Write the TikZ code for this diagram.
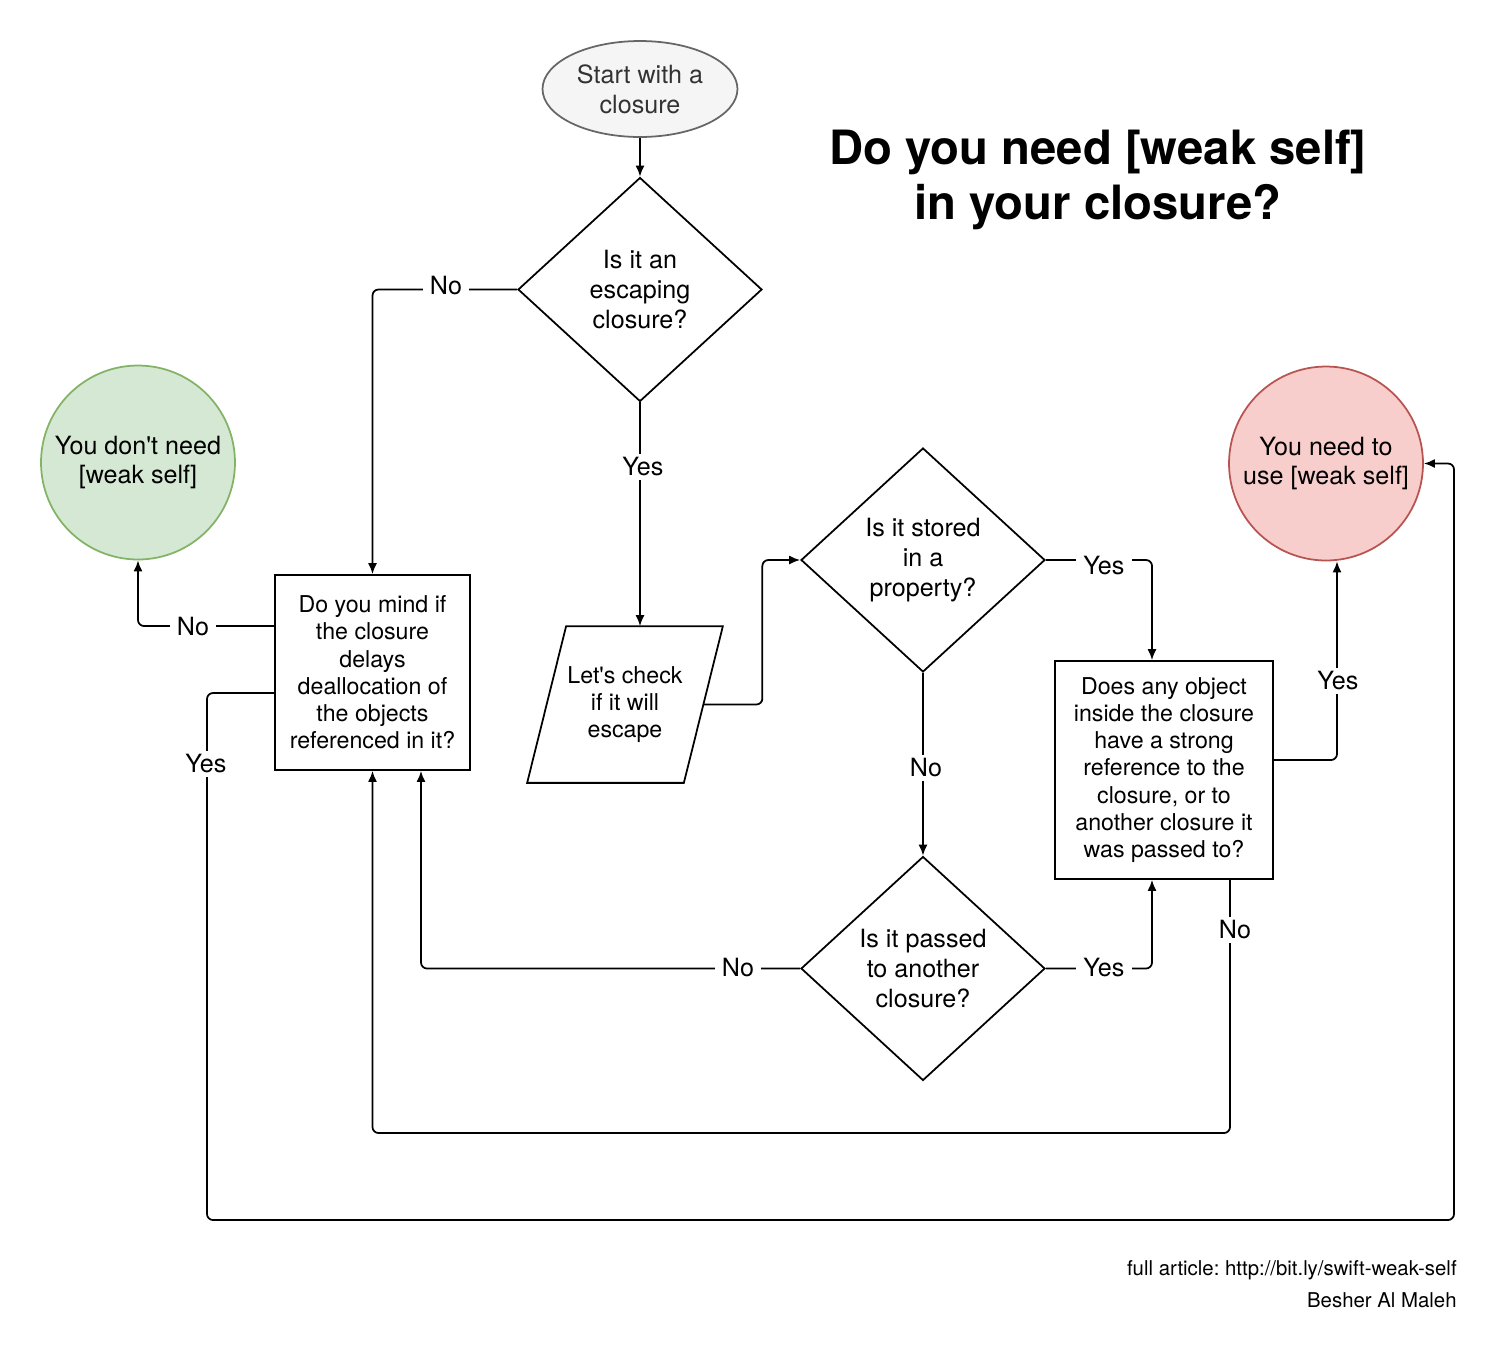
\documentclass[tikz,border=0pt]{standalone}
\usepackage{fontspec}
\setmainfont{TeX Gyre Heros}[Ligatures=TeXOff]
\frenchspacing
\usetikzlibrary{shapes.geometric,arrows.meta,calc}
\definecolor{startfill}{HTML}{F5F5F5}
\definecolor{startdraw}{HTML}{666666}
\definecolor{starttext}{HTML}{333333}
\definecolor{gfill}{HTML}{D5E8D4}
\definecolor{gdraw}{HTML}{82B366}
\definecolor{rfill}{HTML}{F8CECC}
\definecolor{rdraw}{HTML}{B85450}
\begin{document}
\begin{tikzpicture}[x=0.02cm,y=-0.02cm,
 base/.style={line width=1pt,draw=black,align=center,inner sep=0pt},
 big/.style={font=\fontsize{14.3}{17}\selectfont},
 small/.style={font=\fontsize{13.2}{15.5}\selectfont},
 dia/.style={base,big,diamond,minimum width=4.88cm,minimum height=4.48cm},
 box/.style={base,small,rectangle},
 endc/.style={base,big,circle,minimum size=3.88cm},
 arr/.style={line width=1pt,-{Latex[length=2.2mm,width=1.8mm]},rounded corners=0.12cm},
 lbl/.style={fill=white,big,inner xsep=4pt,inner ysep=2pt}
]
\useasboundingbox (0,0) rectangle (1502,1350);

% nodes
\node[base,big,ellipse,fill=startfill,draw=startdraw,text=starttext,
      minimum width=3.9cm,minimum height=1.92cm] (start) at (640,89) {Start with a\\closure};
\node[dia] (d1) at (640,289.5) {Is it an\\escaping\\closure?};
\node[endc,fill=gfill,draw=gdraw] (green) at (138,462.5) {You don't need\\{}[weak self]};
\node[endc,fill=rfill,draw=rdraw] (red) at (1326,463.5) {You need to\\use [weak self]};
\node[box,minimum width=3.9cm,minimum height=3.9cm] (r1) at (372.5,672.5)
  {Do you mind if\\the closure\\delays\\deallocation of\\the objects\\referenced in it?};
\node[base,small,draw=none,minimum width=3.88cm,minimum height=3.1cm] (p) at (625,704.5)
  {Let's check\\if it will\\escape};
\draw[line width=1pt] ($(p.north west)+(0.78cm,0)$) -- (p.north east)
  -- ($(p.south east)+(-0.78cm,0)$) -- (p.south west) -- cycle;
\coordinate (pe) at ($(p.east)+(-0.39cm,0)$);
\node[dia] (d2) at (923,560) {Is it stored\\in a\\property?};
\node[dia] (d3) at (923,968.5) {Is it passed\\to another\\closure?};
\node[box,minimum width=4.36cm,minimum height=4.36cm] (r2) at (1164,770)
  {Does any object\\inside the closure\\have a strong\\reference to the\\closure, or to\\another closure it\\was passed to?};

\node[align=center,font=\bfseries\fontsize{26.9}{31.7}\selectfont] (title) at (1098,180)
  {Do you need [weak self]\\in your closure?};
\node[align=right,anchor=east,inner sep=0pt,font=\fontsize{11.6}{18}\selectfont] (foot) at (1457,1284)
  {full article: http://bit.ly/swift-weak-self\\Besher Al Maleh};

% helper coordinates
\coordinate (c1152) at (1152,0);
\coordinate (c1230) at (1230,0);
\coordinate (c1337) at (1337,0);
\coordinate (c421) at (421,0);
\coordinate (c640) at (640,0);
\coordinate (bl) at (207,1220);
\coordinate (br) at (1454,1220);
\coordinate (nb) at (1230,1133);

% connectors
\draw[arr] (start.south) -- (d1.north);
\draw[arr] (d1.west) -| (r1.north);
\draw[arr] (d1.south) -- (p.north -| c640);
\draw[arr] (pe) -- ++(59,0) |- (d2.west);
\draw[arr] (d2.east) -| (r2.north -| c1152);
\draw[arr] (d2.south) -- (d3.north);
\draw[arr] (d3.east) -| (r2.south -| c1152);
\draw[arr] (d3.west) -| (r1.south -| c421);
\draw[arr] ([yshift=0.2cm]r2.east) -| (red.south -| c1337);
\draw[arr] (r2.south -| c1230) -- (nb) -| (r1.south);
\draw[arr] ([yshift=0.93cm]r1.west) -| (green.south);
\draw[arr] ([yshift=-0.41cm]r1.west) -| (bl) -- (br) |- (red.east);

% labels
\node[lbl] (l1) at (446,286) {No};
\node[lbl] (l2) at (643,467) {Yes};
\node[lbl] (l3) at (1104,566) {Yes};
\node[lbl] (l4) at (926,768) {No};
\node[lbl] (l5) at (1104,968) {Yes};
\node[lbl] (l6) at (738,968) {No};
\node[lbl] (l7) at (1338,681) {Yes};
\node[lbl] (l8) at (1235,930) {No};
\node[lbl] (l9) at (193,627) {No};
\node[lbl] (l10) at (206,764) {Yes};
\end{tikzpicture}
\end{document}
